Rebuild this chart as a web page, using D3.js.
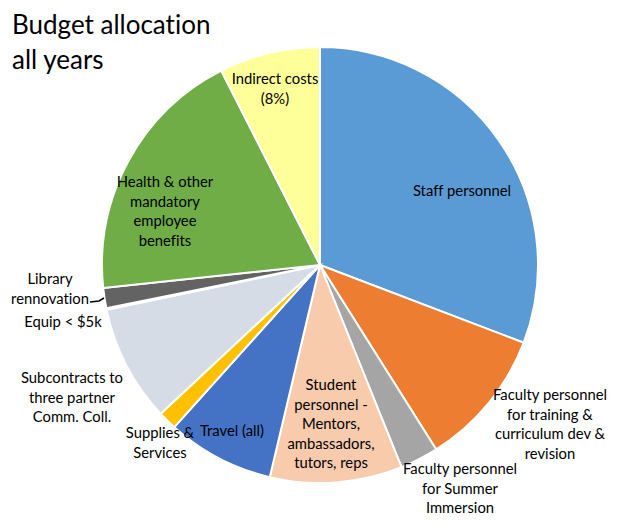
<!DOCTYPE html>
<html>
<head>
<meta charset="utf-8">
<script src="https://cdn.jsdelivr.net/npm/d3@7"></script>
<style>
  html, body { margin: 0; padding: 0; background: #fff; }
  svg { display: block; }
  text { font-variant-ligatures: none; }
  .title { font-family: Lato, "Open Sans", sans-serif; font-size: 26px; fill: #000; }
  .lbl { font-family: Lato, "Open Sans", sans-serif; font-size: 14.8px; fill: #000; }
</style>
</head>
<body>
<svg id="chart" width="635" height="525"></svg>
<script>
  // Budget shares (percent of total)
  const categories = [
    "Staff personnel",
    "Faculty personnel for training & curriculum dev & revision",
    "Faculty personnel for Summer Immersion",
    "Student personnel - Mentors, ambassadors, tutors, reps",
    "Travel (all)",
    "Supplies & Services",
    "Subcontracts to three partner Comm. Coll.",
    "Equip < $5k",
    "Library rennovation",
    "Health & other mandatory employee benefits",
    "Indirect costs (8%)"
  ];
  const values = [30.8, 10.25, 2.85, 9.8, 7.95, 1.4, 8.65, 0.12, 1.5, 19.2, 7.48];
  const colors = ["#5B9BD5", "#ED7D31", "#A5A5A5", "#F8CBAD", "#4472C4", "#FFC000",
                  "#D6DCE5", "#C55A11", "#636363", "#70AD47", "#FFFF99"];

  // Label lines as shown on the chart
  const labelLines = [
    ["Staff personnel"],
    ["Faculty personnel", "for training &", "curriculum dev &", "revision"],
    ["Faculty personnel", "for Summer", "Immersion"],
    ["Student", "personnel -", "Mentors,", "ambassadors,", "tutors, reps"],
    ["Travel (all)"],
    ["Supplies &", "Services"],
    ["Subcontracts to", "three partner", "Comm. Coll."],
    ["Equip < $5k"],
    ["Library", "rennovation"],
    ["Health & other", "mandatory", "employee", "benefits"],
    ["Indirect costs", "(8%)"]
  ];
  // label anchor (centre x, first line y) — layout only
  const labelAt = [
    [462, 196], [550, 400], [460, 474], [331, 390], [232, 436], [160, 438],
    [72, 383], [63, 327], [50, 284], [165, 187], [275, 84]
  ];

  const svg = d3.select('#chart');
  const cx = 320, cy = 265, R = 218, LH = 19.5;

  svg.append('text').attr('class', 'title').attr('x', 12).attr('y', 34).text('Budget allocation');
  svg.append('text').attr('class', 'title').attr('x', 12).attr('y', 69).text('all years');

  const pie = d3.pie().sort(null).value(d => d)(values);
  const arc = d3.arc().innerRadius(0).outerRadius(R);

  const g = svg.append('g').attr('transform', `translate(${cx},${cy})`);
  g.selectAll('path.slice').data(pie).join('path')
    .attr('class', 'slice')
    .attr('d', arc)
    .attr('fill', (d, i) => colors[i])
    .attr('stroke', '#fff')
    .attr('stroke-width', 2);

  // leader line for the library slice
  svg.append('polyline')
    .attr('points', '90,302 99,301 104,298')
    .attr('fill', 'none').attr('stroke', '#000').attr('stroke-width', 1.5);

  labelLines.forEach((lines, i) => {
    const t = svg.append('text').attr('class', 'lbl').attr('text-anchor', 'middle');
    lines.forEach((s, k) => {
      t.append('tspan').attr('x', labelAt[i][0]).attr('y', labelAt[i][1] + k * LH).text(s);
    });
  });
</script>
</body>
</html>
